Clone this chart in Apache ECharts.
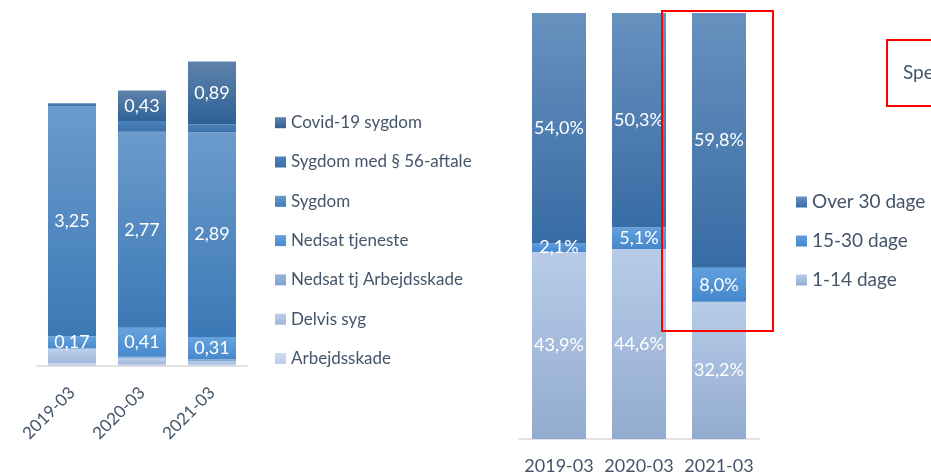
<!DOCTYPE html>
<html>
<head>
<meta charset="utf-8">
<script src="https://cdn.jsdelivr.net/npm/echarts@6/dist/echarts.min.js"></script>
<style>
html,body{margin:0;padding:0;background:#fff;}
#c{width:931px;height:476px;}
</style>
</head>
<body>
<div id="c"></div>
<script>
// ---- data ----
var categories = ['2019-03', '2020-03', '2021-03'];

// left chart (stacked values)
var covid      = [0, 0.43, 0.89];
var sygdom56   = [0.04, 0.15, 0.11];
var sygdom     = [3.25, 2.77, 2.89];
var nedsatTj   = [0.17, 0.41, 0.31];
var nedsatArb  = [0.01, 0.02, 0.03];
var delvisSyg  = [0.20, 0.09, 0.05];
var arbejds    = [0.04, 0.02, 0.02];

// right chart (percent shares)
var dage1_14   = [43.9, 44.6, 32.2];
var dage15_30  = [2.1, 5.1, 8.0];
var dageOver30 = [54.0, 50.3, 59.8];

var leftNames = ['Covid-19 sygdom', 'Sygdom med § 56-aftale', 'Sygdom', 'Nedsat tjeneste',
                 'Nedsat tj Arbejdsskade', 'Delvis syg', 'Arbejdsskade'];
var rightNames = ['Over 30 dage', '15-30 dage', '1-14 dage'];

// ---- styling ----
var FONT = 'Lato';
var TXT = '#44546A';
function grad(top, bottom) {
  return new echarts.graphic.LinearGradient(0, 0, 0, 1, [
    {offset: 0, color: top}, {offset: 1, color: bottom}
  ]);
}
function lblL(show) {
  return {
    show: show, position: 'inside', color: '#fff', fontFamily: FONT, fontSize: 18,
    formatter: function (p) { return p.value ? p.value.toFixed(2).replace('.', ',') : ''; }
  };
}
function lblR() {
  return {
    show: true, position: 'inside', color: '#fff', fontFamily: FONT, fontSize: 18,
    formatter: function (p) { return p.value.toFixed(1).replace('.', ',') + '%'; }
  };
}
function barL(name, data, top, bottom, showLbl) {
  return {
    name: name, type: 'bar', stack: 'L', xAxisIndex: 0, yAxisIndex: 0, data: data,
    barCategoryGap: '31.4%', itemStyle: {color: grad(top, bottom)}, label: lblL(showLbl)
  };
}
function barR(name, data, top, bottom) {
  return {
    name: name, type: 'bar', stack: 'R', xAxisIndex: 1, yAxisIndex: 1, data: data,
    barCategoryGap: '32.5%', itemStyle: {color: grad(top, bottom)}, label: lblR()
  };
}

var chart = echarts.init(document.getElementById('c'), null, {renderer: 'canvas'});
chart.setOption({
  animation: false,
  backgroundColor: '#ffffff',
  grid: [
    {left: 37, width: 210, top: 12, height: 354},
    {left: 519, width: 240, top: 13, height: 426}
  ],
  xAxis: [
    {
      type: 'category', gridIndex: 0, data: categories,
      axisLine: {lineStyle: {color: '#d9d9d9', width: 1.5}}, axisTick: {show: false},
      axisLabel: {rotate: 45, margin: 24, interval: 0, color: TXT, fontFamily: FONT, fontSize: 17}
    },
    {
      type: 'category', gridIndex: 1, data: categories,
      axisLine: {lineStyle: {color: '#d9d9d9', width: 1.5}}, axisTick: {show: false},
      axisLabel: {margin: 18, interval: 0, hideOverlap: false, color: TXT, fontFamily: FONT, fontSize: 18}
    }
  ],
  yAxis: [
    {type: 'value', gridIndex: 0, min: 0, max: 5, show: false, splitLine: {show: false}},
    {type: 'value', gridIndex: 1, min: 0, max: 100, show: false, splitLine: {show: false}}
  ],
  legend: [
    {
      data: leftNames, orient: 'vertical', left: 275, top: 112.7, padding: 0,
      itemWidth: 11, itemHeight: 11, itemGap: 19.3, icon: 'rect',
      textStyle: {color: TXT, fontFamily: FONT, fontSize: 17, lineHeight: 20}
    },
    {
      data: rightNames, orient: 'vertical', left: 796, top: 192, padding: 0,
      itemWidth: 11, itemHeight: 11, itemGap: 19, icon: 'rect',
      textStyle: {color: TXT, fontFamily: FONT, fontSize: 19, lineHeight: 20}
    }
  ],
  series: [
    barL('Arbejdsskade', arbejds, '#d4def0', '#bccbe5', false),
    barL('Delvis syg', delvisSyg, '#bccfea', '#9fb6d9', false),
    barL('Nedsat tj Arbejdsskade', nedsatArb, '#96b5dd', '#7ea3d1', false),
    barL('Nedsat tjeneste', nedsatTj, '#66a3dd', '#4889cd', true),
    barL('Sygdom', sygdom, '#6c9bcc', '#3b79b6', true),
    barL('Sygdom med § 56-aftale', sygdom56, '#4c82bc', '#3a71ab', false),
    barL('Covid-19 sygdom', covid, '#5e82ab', '#2e6196', true),
    barR('1-14 dage', dage1_14, '#b8cce9', '#92abcf'),
    barR('15-30 dage', dage15_30, '#60a0dc', '#4587cd'),
    barR('Over 30 dage', dageOver30, '#6891be', '#386ca5')
  ],
  graphic: [
    {type: 'rect', shape: {x: 662, y: 11, width: 111, height: 320},
     style: {fill: 'none', stroke: '#ff0000', lineWidth: 2}, z: 100},
    {type: 'rect', shape: {x: 887, y: 40, width: 80, height: 66},
     style: {fill: '#ffffff', stroke: '#ff0000', lineWidth: 2}, z: 100},
    {type: 'text', x: 903, y: 73, z: 101,
     style: {text: 'Spe', fill: TXT, font: '19px Lato', textVerticalAlign: 'middle'}}
  ]
});
</script>
</body>
</html>
